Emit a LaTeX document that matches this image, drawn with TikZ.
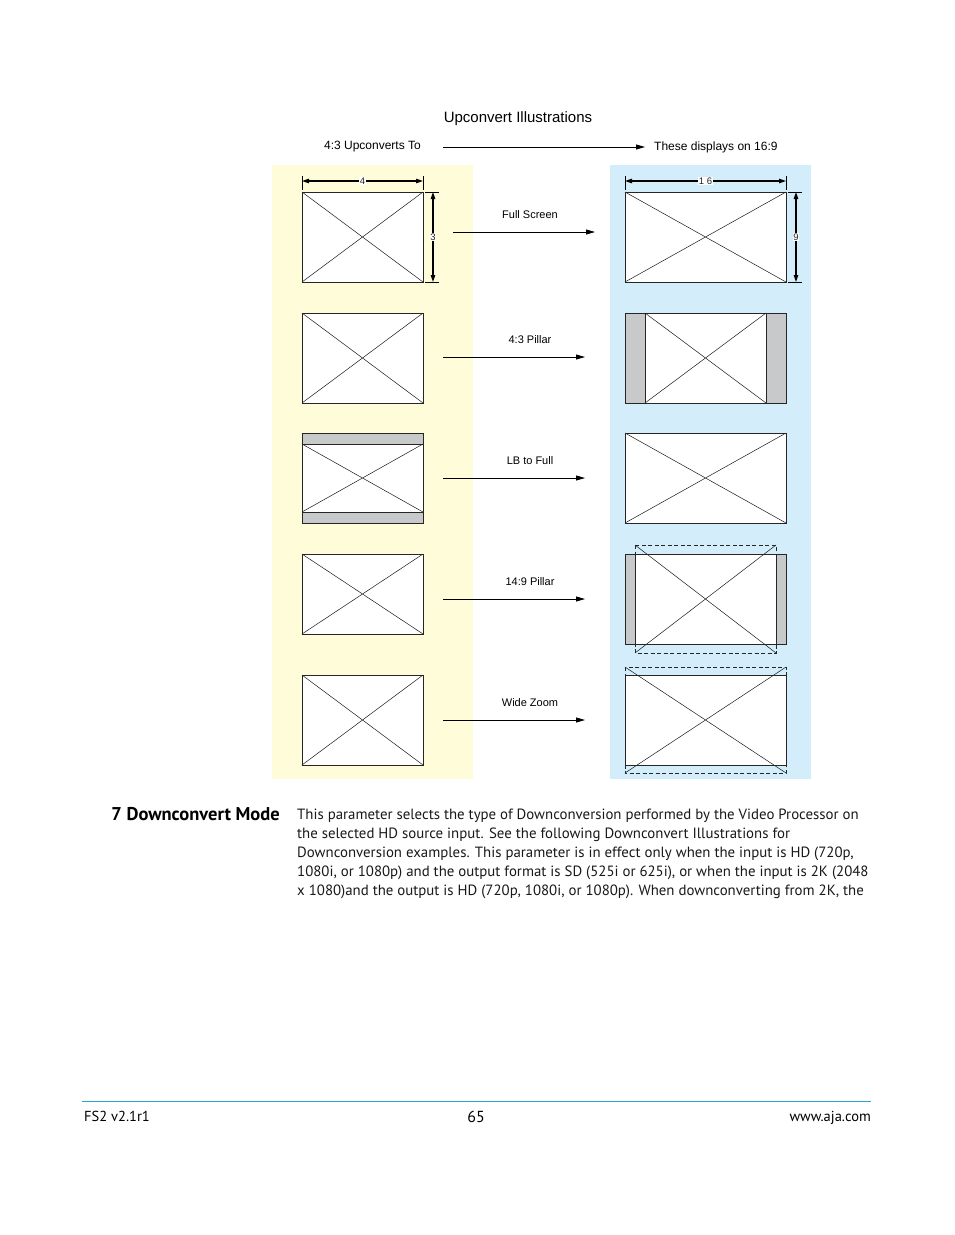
\documentclass[tikz,border=0pt]{standalone}
\usepackage{fontspec}
\setmainfont{Liberation Sans}
\newfontfamily\docfont{PT Sans}
\usetikzlibrary{arrows.meta,calc}

\definecolor{paneyellow}{RGB}{255,252,218}
\definecolor{paneblue}{RGB}{212,237,250}
\definecolor{bargray}{RGB}{200,201,203}
\definecolor{rulecyan}{RGB}{40,165,215}

\tikzset{
  frame/.style={draw=black!85, line width=0.9pt},
  xline/.style={draw=black!90, line width=0.5pt},
  guess/.style={draw=black!85, line width=0.7pt, dash pattern=on 4pt off 2.5pt},
  dimline/.style={line width=1.1pt, {Triangle[length=7pt,width=4.5pt]}-{Triangle[length=7pt,width=4.5pt]}},
  dimtick/.style={line width=0.6pt},
  dimlabel/.style={fill=white, inner sep=0.6pt, text=black!85, font=\fontsize{9.5}{9.5}\selectfont},
  flow/.style={line width=0.8pt, -{Triangle[length=9pt,width=5pt]}},
  caption/.style={inner sep=0pt, font=\fontsize{11}{12}\selectfont},
  body/.style={anchor=base west, inner sep=0pt, text=black!90, font=\docfont\fontsize{14.85}{19}\selectfont},
}

% frame with its two diagonals
\newcommand{\xframe}[4]{%
  \fill[white] (#1,#2) rectangle (#3,#4);
  \draw[xline] (#1,#2) -- (#3,#4) (#1,#4) -- (#3,#2);
  \draw[frame] (#1,#2) rectangle (#3,#4);}

\begin{document}
\begin{tikzpicture}[x=1pt,y=-1pt]
\useasboundingbox[fill=white] (0,0) rectangle (954,1235);

\fill[paneyellow] (272,165) rectangle (473,779); % 4:3 side
\fill[paneblue] (610,165) rectangle (811,779); % 16:9 side

\node (title) at (518,119) {\fontsize{15}{16}\selectfont Upconvert Illustrations};
\node[anchor=east, inner sep=0pt] (src) at (421,147) {\fontsize{12}{13}\selectfont 4:3 Upconverts To};
\node[anchor=west, inner sep=0pt] (dst) at (654,147) {\fontsize{12}{13}\selectfont These displays on 16:9};
\coordinate (hdrA) at (443,147);
\coordinate (hdrB) at (645,147);
\draw[flow] (hdrA) -- (hdrB);

% left column
\xframe{302}{192}{423}{282}
\xframe{302}{313}{423}{403}
\fill[bargray] (302,433) rectangle (423,523);
\xframe{302}{444}{423}{512}
\draw[frame] (302,433) rectangle (423,523);
\xframe{302}{554}{423}{634}
\xframe{302}{675}{423}{765}

% right column
\xframe{625}{192}{786}{282}
\fill[bargray] (625,313) rectangle (786,403);
\xframe{645}{313}{766}{403}
\draw[frame] (625,313) rectangle (786,403);
\xframe{625}{433}{786}{523}
\fill[bargray] (625,554) rectangle (786,644);
\fill[white] (635,554) rectangle (776,644);
\draw[xline] (635,545) -- (776,653) (635,653) -- (776,545);
\draw[frame] (625,554) rectangle (786,644) (635,554) -- (635,644) (776,554) -- (776,644);
\draw[guess] (635,545) rectangle (776,653);
\fill[white] (625,675) rectangle (786,765);
\draw[xline] (625,667) -- (786,773) (625,773) -- (786,667);
\draw[frame] (625,675) rectangle (786,765);
\draw[guess] (625,667) rectangle (786,773);

% dimensions
\draw[dimtick] (302,176) -- (302,190) (423,176) -- (423,190);
\draw[dimline] (302,181) -- node[dimlabel] (dimW) {4} (423,181);
\draw[dimtick] (425,192) -- (439,192) (425,282) -- (439,282);
\draw[dimline] (433,192) -- node[dimlabel] (dimH) {3} (433,282);
\draw[dimtick] (625,176) -- (625,190) (786,176) -- (786,190);
\draw[dimline] (625,181) -- node[dimlabel] (dimWW) {1 6} (786,181);
\draw[dimtick] (788,192) -- (802,192) (788,282) -- (802,282);
\draw[dimline] (796,192) -- node[dimlabel] (dimHH) {9} (796,282);

% conversions
\foreach \y/\lbl/\xa/\xb [count=\i] in {232/Full Screen/453/595, 357/4:3 Pillar/443/585,
    478/LB to Full/443/585, 599/14:9 Pillar/443/585, 720/Wide Zoom/443/585} {
  \coordinate (in\i) at (\xa,\y);
  \coordinate (out\i) at (\xb,\y);
  \node[caption] (mode\i) at (530,\y-17) {\lbl};
  \draw[flow] (in\i) -- (out\i);
}

% text below
\node[anchor=base east, inner sep=0pt] (head) at (280,820)
  {\docfont\bfseries\fontsize{18.5}{20}\selectfont 7 Downconvert Mode};
\node[body] (p1) at (297,819) {This parameter selects the type of Downconversion performed by the Video Processor on};
\node[body] (p2) at (297,838) {the selected HD source input. See the following Downconvert Illustrations for};
\node[body] (p3) at (297,857) {Downconversion examples. This parameter is in effect only when the input is HD (720p,};
\node[body] (p4) at (297,876) {1080i, or 1080p) and the output format is SD (525i or 625i), or when the input is 2K (2048};
\node[body] (p5) at (297,895) {x 1080)and the output is HD (720p, 1080i, or 1080p). When downconverting from 2K, the};

% footer
\draw[rulecyan, line width=0.6pt] (82,1101) -- (871,1101);
\node[anchor=base west, inner sep=0pt] (foot1) at (84,1121) {\docfont\fontsize{14.5}{15}\selectfont FS2 v2.1r1};
\node[anchor=base, inner sep=0pt] (foot2) at (476,1122) {\docfont\fontsize{16}{16}\selectfont 65};
\node[anchor=base east, inner sep=0pt] (foot3) at (871,1121) {\docfont\fontsize{14.5}{15}\selectfont www.aja.com};
\end{tikzpicture}
\end{document}
